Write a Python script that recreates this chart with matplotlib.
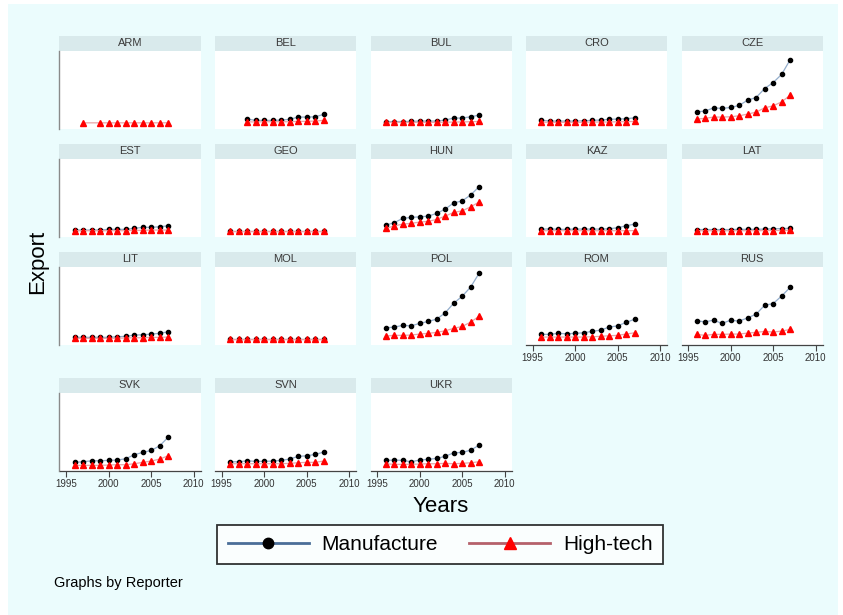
import matplotlib
matplotlib.use("Agg")
import matplotlib.pyplot as plt
from matplotlib.lines import Line2D
from matplotlib.patches import Rectangle
import numpy as np

plt.rcParams['font.family'] = ['Liberation Sans', 'DejaVu Sans']

# export series by reporter, 1996-2007 (None = no observation)
years = [1996, 1997, 1998, 1999, 2000, 2001, 2002, 2003, 2004, 2005, 2006, 2007]

reporters = ['ARM', 'BEL', 'BUL', 'CRO', 'CZE',
             'EST', 'GEO', 'HUN', 'KAZ', 'LAT',
             'LIT', 'MOL', 'POL', 'ROM', 'RUS',
             'SVK', 'SVN', 'UKR']

arm_manuf = [None] * 12
arm_high = [None, 2.4, None, 2.4, 2.4, 2.4, 2.4, 2.4, 2.4, 2.4, 2.4, 2.6]
bel_manuf = [None, None, 10, 7.4, 7.4, 7.4, 8, 9.4, 14, 14, 14.6, 19.4]
bel_high = [None, None, 4.6, 4, 4.6, 4.6, 4.6, 4.6, 5.4, 5.4, 6, 7.4]
bul_manuf = [5, 5, 5, 5.4, 6, 6, 6, 8, 12, 12, 14.6, 18]
bul_high = [3.4, 3.4, 3.4, 3.4, 3.4, 3.4, 3.4, 3.6, 4, 4.2, 4.6, 5.2]
cro_manuf = [8, 6, 6, 6, 6, 6.6, 7.4, 8, 9.4, 10, 10.6, 12.6]
cro_high = [4, 3.4, 3.4, 3.4, 3.4, 3.4, 4, 4, 4, 4.6, 4.6, 5.4]
cze_manuf = [24.6, 26, 32.6, 31.4, 33.4, 37.4, 48, 53.4, 71.4, 83.4, 100, 129.4]
cze_high = [10, 11.4, 14, 14, 14.6, 16.6, 20, 24, 32.6, 36.6, 44.6, 58]
est_manuf = [4, 4, 4, 4, 5.4, 5.4, 5.4, 7.4, 9.4, 9.4, 10.6, 12.6]
est_high = [2.6, 2.6, 2.6, 2.6, 2.6, 2.6, 2.6, 3.4, 3.4, 4, 4, 4]
geo_manuf = [2.8] * 12
geo_high = [2.2] * 12
hun_manuf = [14, 18.6, 27.4, 29.4, 30.6, 32, 37.4, 46, 58.6, 62.6, 74.6, 91.4]
hun_high = [7.4, 12, 16, 17.4, 20, 21.4, 25.4, 32, 39.4, 42.6, 50.6, 60.6]
kaz_manuf = [5.4, 6.6, 5.4, 5.4, 6, 6, 6, 6, 6.6, 8.6, 12.6, 16]
kaz_high = [2.6, 2.6, 2.6, 2.6, 2.6, 2.6, 2.6, 2.6, 2.6, 2.6, 2.6, 2.8]
lat_manuf = [5, 5, 5, 5, 5, 5.4, 5.4, 5.4, 6, 6.6, 7, 7.4]
lat_high = [2.6, 2.6, 2.6, 2.6, 2.6, 2.6, 2.6, 2.6, 2.8, 3, 3.2, 3.4]
lit_manuf = [5.4, 5.4, 5.4, 5.4, 5.4, 6.6, 7.4, 10, 10.6, 12, 13.4, 16.6]
lit_high = [3.4, 3.4, 3.4, 3.4, 3.4, 3.6, 4, 4.6, 4.6, 5.4, 5.4, 6]
mol_manuf = [2.8] * 12
mol_high = [2.4] * 12
pol_manuf = [24.6, 26, 29.4, 28.6, 33.4, 37.4, 42, 54.6, 74, 88, 106.6, 134.6]
pol_high = [8, 9.4, 9.4, 10, 12, 13.4, 15.4, 18.6, 23.4, 27.4, 36, 48]
rom_manuf = [11.4, 11.4, 13.4, 12.6, 13.4, 14.6, 17.4, 20, 26, 28.6, 35.4, 42]
rom_high = [6, 6, 6, 6, 6, 6, 6.6, 7.4, 8.6, 9.4, 12, 14.6]
rus_manuf = [38.6, 36.6, 40, 33.4, 40, 38, 44.6, 52, 70, 73.4, 88.6, 106]
rus_high = [11.4, 9.4, 11.4, 11.4, 12, 12, 14, 15.4, 17.4, 16, 18, 21.4]
svk_manuf = [7.4, 8.6, 10.6, 10.6, 11.4, 12, 14.6, 22.6, 27.4, 31.4, 40.6, 58]
svk_high = [1.4, 1.4, 1.4, 1.4, 2, 2.6, 2.6, 4.6, 7.4, 10, 14, 20.6]
svn_manuf = [8.6, 8.6, 10.6, 9.4, 9.4, 10, 11.4, 14, 19.4, 20.6, 23.4, 28]
svn_high = [4.6, 4.6, 4.6, 4.6, 4.6, 4.6, 4.6, 5.4, 6.6, 7.4, 7.4, 10]
ukr_manuf = [11.4, 12, 11.4, 8.6, 12, 13.4, 15.4, 19.4, 26.6, 27.4, 32, 42]
ukr_high = [4.6, 3.4, 3.4, 3.4, 4, 4.6, 4.6, 5.4, 4.6, 5.4, 6.6, 8.6]

manufacture = [arm_manuf, bel_manuf, bul_manuf, cro_manuf, cze_manuf,
               est_manuf, geo_manuf, hun_manuf, kaz_manuf, lat_manuf,
               lit_manuf, mol_manuf, pol_manuf, rom_manuf, rus_manuf,
               svk_manuf, svn_manuf, ukr_manuf]
hightech = [arm_high, bel_high, bul_high, cro_high, cze_high,
            est_high, geo_high, hun_high, kaz_high, lat_high,
            lit_high, mol_high, pol_high, rom_high, rus_high,
            svk_high, svn_high, ukr_high]

xticks = [1995, 2000, 2005, 2010]

bg = '#EBFCFD'
strip = '#D9EAEC'
manuf_line = '#93ADCB'
high_line = '#E8A3A6'

W, H = 843, 615
fig = plt.figure(figsize=(W / 100, H / 100), dpi=100)
fig.patch.set_facecolor('white')
fig.patches.append(Rectangle((8 / W, 0), 830 / W, 1 - 4 / H, transform=fig.transFigure,
                             facecolor=bg, edgecolor='none', zorder=-10))

col_left = [59.5, 215, 370.5, 526, 681.5]
panel_w = 141
row_top = [50.5, 158.5, 266.5, 392.5]
panel_h = 78.5
strip_h = 15


def fbox(x, y, w, h):
    return [x / W, 1 - (y + h) / H, w / W, h / H]


def to_arr(vals):
    return np.array([np.nan if v is None else v for v in vals], dtype=float)


for i, rep in enumerate(reporters):
    r, c = divmod(i, 5)
    x0, y0 = col_left[c], row_top[r]

    sax = fig.add_axes(fbox(x0, y0 - strip_h, panel_w, strip_h))
    sax.set_facecolor(strip)
    sax.set_xticks([])
    sax.set_yticks([])
    for s in sax.spines.values():
        s.set_visible(False)
    sax.text(0.5, 0.5, rep, ha='center', va='center', fontsize=8,
             color='#3a3a3a', transform=sax.transAxes)

    ax = fig.add_axes(fbox(x0, y0, panel_w, panel_h))
    ax.set_facecolor('white')
    m = to_arr(manufacture[i])
    h = to_arr(hightech[i])
    mk = ~np.isnan(m)
    hk = ~np.isnan(h)
    yr = np.array(years)
    ax.plot(yr[mk], m[mk], color=manuf_line, lw=0.9, marker='o', ms=3.0,
            mfc='black', mec='black', zorder=3)
    ax.plot(yr[hk], h[hk], color=high_line, lw=0.9, marker='^', ms=3.8,
            mfc='red', mec='red', zorder=4)
    ax.set_xlim(1994.23, 2010.8)
    ax.set_ylim(-10, 148)
    ax.set_yticks([])

    for s in ['top', 'right']:
        ax.spines[s].set_visible(False)
    ax.spines['left'].set_visible(c == 0)
    ax.spines['left'].set_color('#8a8a8a')
    ax.spines['left'].set_linewidth(1.0)

    # x axis only where nothing sits below the panel
    has_axis = (r == 3) or (r == 2 and c >= 3)
    if has_axis:
        ax.spines['bottom'].set_color('#444444')
        ax.spines['bottom'].set_linewidth(0.9)
        ax.set_xticks(xticks)
        ax.tick_params(axis='x', length=4, width=0.8, color='#444444',
                       labelsize=7, labelcolor='#333333', pad=2)
        for lab in ax.get_xticklabels():
            lab.set_family(['Liberation Sans Narrow', 'Liberation Sans'])
    else:
        ax.spines['bottom'].set_visible(False)
        ax.set_xticks([])

fig.text(38 / W, 1 - 262 / H, 'Export', rotation=90, ha='center', va='center',
         fontsize=16, color='black')
fig.text(441 / W, 1 - 507 / H, 'Years', ha='center', va='center',
         fontsize=16, color='black')

handles = [
    Line2D([], [], color='#4A6E98', lw=2, marker='o', ms=7.5, mfc='black', mec='black'),
    Line2D([], [], color='#B5616B', lw=2, marker='^', ms=8.5, mfc='red', mec='red'),
]
leg = fig.legend(handles, ['Manufacture', 'High-tech'], loc='center', ncol=2,
                 bbox_to_anchor=(440 / W, 1 - 544.5 / H), fontsize=15,
                 frameon=True, fancybox=False, handlelength=3.9,
                 columnspacing=1.5, handletextpad=0.6, borderpad=0.5)
leg.get_frame().set_edgecolor('black')
leg.get_frame().set_linewidth(1.3)
leg.get_frame().set_facecolor('white')

fig.text(54 / W, 1 - 583 / H, 'Graphs by Reporter', ha='left', va='center',
         fontsize=10.5, color='black')

fig.savefig('out.png', dpi=100, facecolor=fig.get_facecolor())
